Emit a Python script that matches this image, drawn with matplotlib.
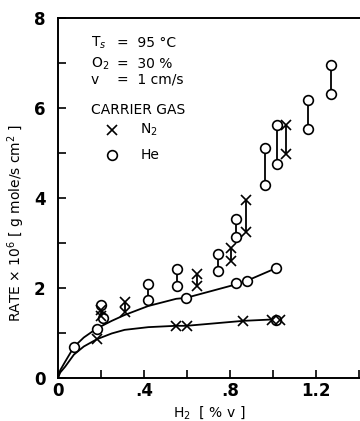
import matplotlib
matplotlib.use("Agg")
import matplotlib.pyplot as plt
from matplotlib.ticker import MultipleLocator, FixedLocator, FixedFormatter

# He (circles), single points
he_x = [0.074, 0.18, 0.20, 0.21, 0.595, 0.828, 0.878, 1.014, 1.014]
he_y = [0.69, 1.10, 1.62, 1.33, 1.78, 2.11, 2.16, 2.44, 1.30]
# He pairs joined by a vertical line
he_pair_x = [0.42, 0.553, 0.743, 0.828, 0.963, 1.017, 1.164, 1.268]
he_pair_hi = [2.09, 2.42, 2.75, 3.53, 5.12, 5.62, 6.18, 6.96]
he_pair_lo = [1.73, 2.04, 2.38, 3.14, 4.30, 4.75, 5.53, 6.31]

# N2 (crosses)
n2_x = [0.18, 0.549, 0.598, 0.862, 0.994, 1.033]
n2_y = [0.86, 1.16, 1.16, 1.27, 1.30, 1.30]
n2_pair_x = [0.20, 0.31, 0.648, 0.803, 0.874, 1.063]
n2_pair_hi = [1.52, 1.70, 2.31, 2.88, 3.96, 5.62]
n2_pair_lo = [1.38, 1.47, 2.04, 2.61, 3.25, 4.97]

# drawn fit curves
he_fit_x = [0, 0.01, 0.033, 0.074, 0.12, 0.18, 0.25, 0.31, 0.42, 0.55, 0.595, 0.828, 0.878, 1.014]
he_fit_y = [0, 0.17, 0.36, 0.69, 0.90, 1.10, 1.27, 1.40, 1.60, 1.76, 1.78, 2.08, 2.16, 2.44]
n2_fit_x = [0, 0.01, 0.033, 0.074, 0.12, 0.18, 0.25, 0.31, 0.42, 0.549, 0.598, 0.862, 0.994, 1.033]
n2_fit_y = [0, 0.12, 0.25, 0.52, 0.70, 0.86, 0.99, 1.07, 1.13, 1.16, 1.16, 1.27, 1.30, 1.30]

xticks = [0, 0.4, 0.8, 1.2]
xtick_labels = ["0", ".4", ".8", "1.2"]
yticks = [0, 2, 4, 6, 8]

plt.rcParams["font.family"] = ["DejaVu Sans"]

fig = plt.figure(figsize=(3.6, 4.21), dpi=100)
ax = fig.add_axes([58 / 360, 1 - 378 / 421, 302 / 360, 360 / 421])

ax.plot(he_fit_x, he_fit_y, color="black", lw=1.3)
ax.plot(n2_fit_x, n2_fit_y, color="black", lw=1.3)

for x, hi, lo in zip(he_pair_x, he_pair_hi, he_pair_lo):
    ax.plot([x, x], [lo, hi], color="black", lw=1.3)
for x, hi, lo in zip(n2_pair_x, n2_pair_hi, n2_pair_lo):
    ax.plot([x, x], [lo, hi], color="black", lw=1.3)
ax.plot([0.205, 0.205], [1.25, 1.62], color="black", lw=1.3)

circ = dict(ls="none", marker="o", ms=7, mfc="white", mec="black", mew=1.2)
cross = dict(ls="none", marker="x", ms=6.5, color="black", mew=1.2)
ax.plot(he_x, he_y, **circ)
ax.plot(he_pair_x, he_pair_hi, **circ)
ax.plot(he_pair_x, he_pair_lo, **circ)
ax.plot(n2_x, n2_y, **cross)
ax.plot(n2_pair_x, n2_pair_hi, **cross)
ax.plot(n2_pair_x, n2_pair_lo, **cross)

ax.set_xlim(0, 1.405)
ax.set_ylim(0, 8)
ax.spines["right"].set_visible(False)
for s in ["left", "bottom", "top"]:
    ax.spines[s].set_linewidth(1.4)

ax.xaxis.set_major_locator(FixedLocator(xticks))
ax.xaxis.set_major_formatter(FixedFormatter(xtick_labels))
ax.xaxis.set_minor_locator(MultipleLocator(0.2))
ax.yaxis.set_major_locator(FixedLocator(yticks))
ax.yaxis.set_minor_locator(MultipleLocator(1))
ax.tick_params(which="both", direction="in", length=6, width=1.2, top=False, right=False)
ax.tick_params(axis="y", pad=9)
ax.tick_params(axis="x", pad=3)
for lab in ax.get_xticklabels() + ax.get_yticklabels():
    lab.set_fontsize(12)
    lab.set_fontweight("bold")

ax.set_ylabel(r"RATE $\times$ 10$^6$ [ g mole/s cm$^2$ ]", fontsize=10)
ax.yaxis.set_label_coords(-0.103, 0.43)
ax.set_xlabel(r"H$_2$  [ % v ]", fontsize=10)
ax.xaxis.set_label_coords(0.5, -0.072)

tr = ax.transAxes
ax.text(0.109, 0.931, r"T$_s$", transform=tr, fontsize=10, va="center")
ax.text(0.195, 0.931, "=  95 °C", transform=tr, fontsize=10, va="center")
ax.text(0.109, 0.872, r"O$_2$", transform=tr, fontsize=10, va="center")
ax.text(0.195, 0.872, "=  30 %", transform=tr, fontsize=10, va="center")
ax.text(0.109, 0.828, "v", transform=tr, fontsize=10, va="center")
ax.text(0.195, 0.828, "=  1 cm/s", transform=tr, fontsize=10, va="center")
ax.text(0.109, 0.744, "CARRIER GAS", transform=tr, fontsize=10, va="center")
ax.plot([0.179], [0.689], transform=tr, **cross)
ax.text(0.272, 0.689, r"N$_2$", transform=tr, fontsize=10, va="center")
ax.plot([0.179], [0.619], transform=tr, **circ)
ax.text(0.272, 0.619, "He", transform=tr, fontsize=10, va="center")

fig.savefig("out.png", dpi=100)
